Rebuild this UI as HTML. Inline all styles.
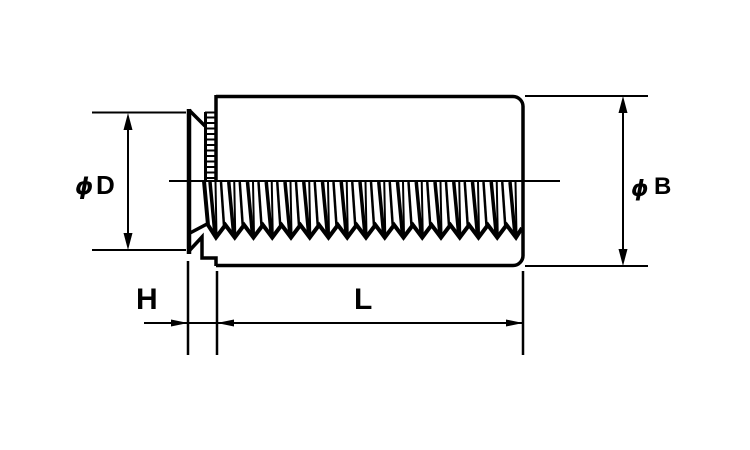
<!DOCTYPE html>
<html>
<head>
<meta charset="utf-8">
<style>
  html,body{margin:0;padding:0;background:#fff;}
  body{width:750px;height:450px;overflow:hidden;}
  svg{display:block;}
  .t{font-family:"Liberation Sans","DejaVu Sans",sans-serif;fill:#000;}
  .phi{font-family:"DejaVu Sans","Liberation Sans",sans-serif;fill:#000;font-style:italic;font-weight:bold;}
</style>
</head>
<body>
<svg width="750" height="450" viewBox="0 0 750 450" xmlns="http://www.w3.org/2000/svg">
  <rect x="0" y="0" width="750" height="450" fill="#fff"/>
  <defs>
    <g id="p" stroke="#000" fill="none" stroke-linecap="butt">
      <line x1="-6" y1="182" x2="-1" y2="235" stroke-width="3.5"/>
      <line x1="-0.5" y1="182" x2="0.5" y2="235" stroke-width="2"/>
      <line x1="5" y1="182" x2="8" y2="226" stroke-width="2.5"/>
    </g>
  </defs>

  <!-- thread hatching -->
  <use href="#p" transform="translate(216,0)"/>
  <use href="#p" transform="translate(234.75,0)"/>
  <use href="#p" transform="translate(253.5,0)"/>
  <use href="#p" transform="translate(272.25,0)"/>
  <use href="#p" transform="translate(291,0)"/>
  <use href="#p" transform="translate(309.75,0)"/>
  <use href="#p" transform="translate(328.5,0)"/>
  <use href="#p" transform="translate(347.25,0)"/>
  <use href="#p" transform="translate(366,0)"/>
  <use href="#p" transform="translate(384.75,0)"/>
  <use href="#p" transform="translate(403.5,0)"/>
  <use href="#p" transform="translate(422.25,0)"/>
  <use href="#p" transform="translate(441,0)"/>
  <use href="#p" transform="translate(459.75,0)"/>
  <use href="#p" transform="translate(478.5,0)"/>
  <use href="#p" transform="translate(497.25,0)"/>
  <g stroke="#000" fill="none">
    <line x1="510" y1="182" x2="515" y2="235" stroke-width="3.5"/>
    <line x1="515.5" y1="182" x2="516.5" y2="235" stroke-width="2"/>
  </g>

  <!-- thread zigzag + left boundary -->
  <path d="M204,181 L208,225 L216,237.5 L225.4,225 L234.75,237.5 L244.1,225 L253.5,237.5 L262.9,225 L272.25,237.5 L281.6,225 L291,237.5 L300.4,225 L309.75,237.5 L319.1,225 L328.5,237.5 L337.9,225 L347.25,237.5 L356.6,225 L366,237.5 L375.4,225 L384.75,237.5 L394.1,225 L403.5,237.5 L412.9,225 L422.25,237.5 L431.6,225 L441,237.5 L450.4,225 L459.75,237.5 L469.1,225 L478.5,237.5 L487.9,225 L497.25,237.5 L506.6,225 L516,237.5 L522,228"
        fill="none" stroke="#000" stroke-width="4" stroke-linejoin="miter"/>

  <!-- body -->
  <path d="M216,96.5 H513 A10,10 0 0 1 523,106.5 V255.5 A10,10 0 0 1 513,265.5 H216" fill="none" stroke="#000" stroke-width="3.5"/>
  <line x1="216" y1="95" x2="216" y2="181" stroke="#000" stroke-width="3.5"/>

  <!-- knurl -->
  <g stroke="#000" stroke-width="2">
    <line x1="205.5" y1="112" x2="205.5" y2="181" stroke-width="3"/>
    <line x1="205" y1="112.5" x2="216" y2="112.5"/>
    <line x1="205" y1="117.5" x2="216" y2="117.5"/>
    <line x1="205" y1="123" x2="216" y2="123"/>
    <line x1="205" y1="128.5" x2="216" y2="128.5"/>
    <line x1="205" y1="134" x2="216" y2="134"/>
    <line x1="205" y1="139.5" x2="216" y2="139.5"/>
    <line x1="205" y1="145" x2="216" y2="145"/>
    <line x1="205" y1="150.5" x2="216" y2="150.5"/>
    <line x1="205" y1="156" x2="216" y2="156"/>
    <line x1="205" y1="161.5" x2="216" y2="161.5"/>
    <line x1="205" y1="167" x2="216" y2="167"/>
    <line x1="205" y1="172.5" x2="216" y2="172.5"/>
    <line x1="205" y1="178" x2="216" y2="178"/>
  </g>

  <!-- flange -->
  <g stroke="#000" fill="none">
    <line x1="189" y1="109" x2="189" y2="254" stroke-width="4.5"/>
    <line x1="189" y1="110" x2="205" y2="126" stroke-width="3.5"/>
    <line x1="190" y1="233" x2="207" y2="224" stroke-width="3.5"/>
    <path d="M189,251 L202,237 V258 H216 V266" stroke-width="3.5"/>
  </g>

  <!-- center line -->
  <line x1="169" y1="181" x2="560" y2="181" stroke="#000" stroke-width="2"/>

  <!-- D dimension -->
  <g stroke="#000" stroke-width="2">
    <line x1="92" y1="112.5" x2="186" y2="112.5"/>
    <line x1="92" y1="250" x2="186" y2="250"/>
    <line x1="128" y1="118" x2="128" y2="245"/>
  </g>
  <polygon points="128,113 123.5,130 132.5,130" fill="#000"/>
  <polygon points="128,250 123.5,233 132.5,233" fill="#000"/>

  <!-- B dimension -->
  <g stroke="#000" stroke-width="2">
    <line x1="525" y1="96" x2="648" y2="96"/>
    <line x1="525" y1="266" x2="648" y2="266"/>
    <line x1="623" y1="100" x2="623" y2="262"/>
  </g>
  <polygon points="623,96 618.5,113 627.5,113" fill="#000"/>
  <polygon points="623,266 618.5,249 627.5,249" fill="#000"/>

  <!-- H / L dimension -->
  <g stroke="#000">
    <line x1="188" y1="261" x2="188" y2="355" stroke-width="2.5"/>
    <line x1="217" y1="271" x2="217" y2="355" stroke-width="2.5"/>
    <line x1="523" y1="271" x2="523" y2="355" stroke-width="2.5"/>
    <line x1="144" y1="323" x2="523" y2="323" stroke-width="2"/>
  </g>
  <polygon points="188,323 171,319.5 171,326.5" fill="#000"/>
  <polygon points="217,323 234,319.5 234,326.5" fill="#000"/>
  <polygon points="523,323 506,319.5 506,326.5" fill="#000"/>

  <!-- labels -->
  <text class="phi" x="75" y="194" font-size="23">ϕ</text>
  <text class="t" x="96" y="194" font-size="26" font-weight="bold">D</text>
  <text class="phi" x="631" y="196" font-size="22">ϕ</text>
  <text class="t" x="654" y="194" font-size="24" font-weight="bold">B</text>
  <text class="t" x="136" y="309" font-size="30" font-weight="bold">H</text>
  <text class="t" x="354" y="309" font-size="30" font-weight="bold">L</text>
</svg>
</body>
</html>
